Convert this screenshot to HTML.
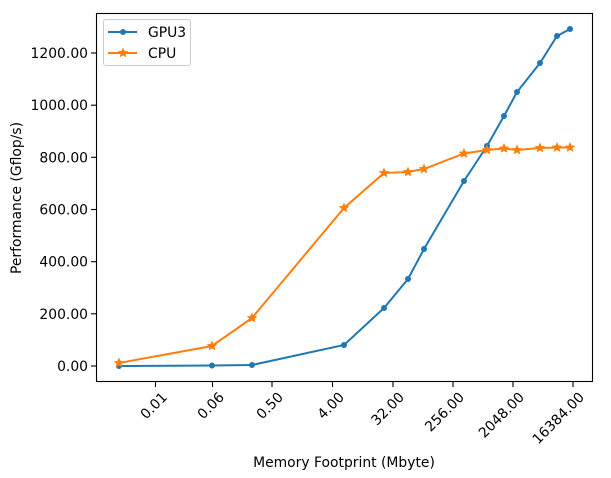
<!DOCTYPE html>
<html><head><meta charset="utf-8"><style>
html,body{margin:0;padding:0;background:#fff;}
svg{display:block;font-family:"DejaVu Sans","Liberation Sans",sans-serif;}
</style></head><body>
<svg width="611" height="478" viewBox="0 0 611 478" xmlns="http://www.w3.org/2000/svg">
<defs>
<polygon id="st" points="0,-5.5 1.6,-2 5.3,-1.7 2.5,0.7 3.3,4.4 0,2.4 -3.3,4.4 -2.5,0.7 -5.3,-1.7 -1.6,-2" fill="#ff7f0e"/>
</defs>
<rect x="96.5" y="13.5" width="496" height="368" fill="none" stroke="#000" stroke-width="1.1"/>
<g stroke="#000" stroke-width="1.1">
<line x1="91" y1="366" x2="96" y2="366"/><line x1="91" y1="313.8" x2="96" y2="313.8"/>
<line x1="91" y1="261.7" x2="96" y2="261.7"/><line x1="91" y1="209.5" x2="96" y2="209.5"/>
<line x1="91" y1="157.3" x2="96" y2="157.3"/><line x1="91" y1="105.2" x2="96" y2="105.2"/>
<line x1="91" y1="53" x2="96" y2="53"/>
<line x1="155.5" y1="382" x2="155.5" y2="387"/><line x1="212.5" y1="382" x2="212.5" y2="387"/>
<line x1="272" y1="382" x2="272" y2="387"/><line x1="332.5" y1="382" x2="332.5" y2="387"/>
<line x1="393" y1="382" x2="393" y2="387"/><line x1="453" y1="382" x2="453" y2="387"/>
<line x1="513" y1="382" x2="513" y2="387"/><line x1="573" y1="382" x2="573" y2="387"/>
</g>
<g font-size="13.9" fill="#000" text-anchor="end">
<text x="88" y="371">0.00</text><text x="88" y="318.8">200.00</text><text x="88" y="266.7">400.00</text>
<text x="88" y="214.5">600.00</text><text x="88" y="162.3">800.00</text><text x="88" y="110.2">1000.00</text>
<text x="88" y="58">1200.00</text>
</g>
<g font-size="13.9" fill="#000" text-anchor="end">
<text transform="translate(168,398) rotate(-45)">0.01</text>
<text transform="translate(225,398) rotate(-45)">0.06</text>
<text transform="translate(284,398) rotate(-45)">0.50</text>
<text transform="translate(345,398) rotate(-45)">4.00</text>
<text transform="translate(405,398) rotate(-45)">32.00</text>
<text transform="translate(465,398) rotate(-45)">256.00</text>
<text transform="translate(525,398) rotate(-45)">2048.00</text>
<text transform="translate(585,398) rotate(-45)">16384.00</text>
</g>
<text x="344" y="467" font-size="13.9" text-anchor="middle">Memory Footprint (Mbyte)</text>
<text transform="translate(21,198) rotate(-90)" font-size="13.9" text-anchor="middle">Performance (Gflop/s)</text>
<polyline fill="none" stroke="#1f77b4" stroke-width="2" points="119,366 212,365.5 252,365 344,345 384,308 408,279 424,249 464,181 487,146 504,116 517,92 540,63 557,36 570,29"/>
<g fill="#1f77b4">
<circle cx="119" cy="366" r="3"/><circle cx="212" cy="365.5" r="3"/><circle cx="252" cy="365" r="3"/>
<circle cx="344" cy="345" r="3"/><circle cx="384" cy="308" r="3"/><circle cx="408" cy="279" r="3"/>
<circle cx="424" cy="249" r="3"/><circle cx="464" cy="181" r="3"/><circle cx="487" cy="146" r="3"/>
<circle cx="504" cy="116" r="3"/><circle cx="517" cy="92" r="3"/><circle cx="540" cy="63" r="3"/>
<circle cx="557" cy="36" r="3"/><circle cx="570" cy="29" r="3"/>
</g>
<polyline fill="none" stroke="#ff7f0e" stroke-width="2" points="119,363 212,346 252,318 344,208 384,173 408,172 424,169 464,153.5 487,150 504,148.5 517,150 540,148 557,147.5 570,147.5"/>
<g>
<use href="#st" x="119" y="363"/><use href="#st" x="212" y="346"/><use href="#st" x="252" y="318"/>
<use href="#st" x="344" y="208"/><use href="#st" x="384" y="173"/><use href="#st" x="408" y="172"/>
<use href="#st" x="424" y="169"/><use href="#st" x="464" y="153.5"/><use href="#st" x="487" y="150"/>
<use href="#st" x="504" y="148.5"/><use href="#st" x="517" y="150"/><use href="#st" x="540" y="148"/>
<use href="#st" x="557" y="147.5"/><use href="#st" x="570" y="147.5"/>
</g>
<rect x="103.5" y="19.5" width="87" height="46" rx="2.5" fill="#fff" stroke="#ccc" stroke-width="1"/>
<line x1="108" y1="32" x2="137" y2="32" stroke="#1f77b4" stroke-width="2"/>
<circle cx="123" cy="32" r="3" fill="#1f77b4"/>
<text x="148" y="37" font-size="13.9">GPU3</text>
<line x1="108" y1="53" x2="137" y2="53" stroke="#ff7f0e" stroke-width="2"/>
<use href="#st" x="123" y="53"/>
<text x="148" y="58" font-size="13.9">CPU</text>
</svg>
</body></html>
